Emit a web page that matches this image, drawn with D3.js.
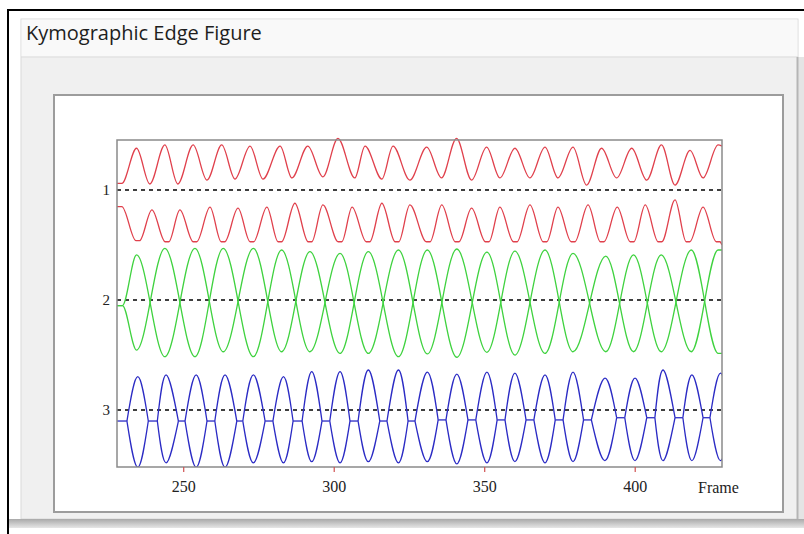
<!DOCTYPE html>
<html><head><meta charset="utf-8">
<script src="https://cdn.jsdelivr.net/npm/d3@7"></script>
<style>body{margin:0;background:#fff;} svg{display:block}</style>
</head><body><svg id="c" width="804" height="534"></svg>
<script>
// ---------- data ----------
const titleText = "Kymographic Edge Figure";
const xLabel = "Frame";
const xTicks = [250, 300, 350, 400];
const rowValues = [1, 2, 3];
const rowLabels = ["1", "2", "3"];
const frameDomain = [228, 429];
const valueDomain = [0.545, 3.518];

// red trace, upper edge: [frame, value]
const redUpper = [[228,0.94],[229.6,0.94],
 [234.5,0.62],[238.9,0.945],[243.9,0.59],[248.2,0.945],[253.3,0.59],[257.9,0.91],
 [262.8,0.59],[267.2,0.90],[272.2,0.60],[276.5,0.90],[282.2,0.60],[286.1,0.89],
 [291.4,0.60],[296.4,0.88],[301.4,0.53],[307.0,0.89],[310.4,0.60],[316.0,0.90],
 [319.7,0.60],[325.3,0.91],[330.9,0.61],[335.8,0.89],[340.8,0.53],[345.8,0.91],
 [350.8,0.61],[355.2,0.89],[360.2,0.62],[365.2,0.89],[370.2,0.61],[374.5,0.89],
 [379.5,0.61],[384.0,0.955],[389.0,0.62],[394.0,0.89],[399.0,0.62],[404.0,0.91],
 [408.9,0.59],[413.4,0.955],[418.4,0.64],[422.7,0.89],[427.7,0.59],[429,0.60]];

// red trace, lower edge (troughs have short flat bottoms)
const redLower = [[228,1.15],[229.6,1.15],
 [234.3,1.46],[235.5,1.46],[239.6,1.18],[244.0,1.47],[245.2,1.47],[248.9,1.18],
 [253.3,1.47],[254.5,1.47],[258.9,1.155],[262.6,1.47],[263.8,1.47],[268.2,1.165],
 [272.2,1.47],[273.4,1.47],[277.8,1.155],[281.5,1.47],[282.7,1.47],[287.1,1.12],
 [291.5,1.47],[292.7,1.47],[296.4,1.135],[301.5,1.47],[302.7,1.47],[306.1,1.155],
 [310.8,1.47],[312.0,1.47],[316.0,1.12],[320.4,1.47],[321.6,1.47],[325.3,1.135],
 [330.8,1.47],[332.0,1.47],[335.9,1.135],[340.4,1.47],[341.6,1.47],[345.8,1.165],
 [350.4,1.47],[351.6,1.47],[355.2,1.155],[359.7,1.47],[360.9,1.47],[365.2,1.135],
 [369.6,1.47],[370.8,1.47],[374.5,1.155],[378.9,1.47],[380.1,1.47],[384.5,1.135],
 [388.6,1.47],[389.8,1.47],[394.2,1.155],[398.5,1.47],[399.7,1.47],[403.5,1.135],
 [407.8,1.47],[409.0,1.47],[413.4,1.09],[417.1,1.47],[418.3,1.47],[422.7,1.155],
 [427.1,1.47],[428.3,1.47],[429,1.50]];

// green pair: lens centres, extreme upper / lower values
const greenStart = [[228,2.05],[229.8,2.05]];
const greenCenters = [234.5,243.9,253.9,263.3,273.3,282.7,292.1,302.1,311.5,321.5,
 331.1,340.9,350.9,360.2,370.2,379.5,390.4,399.6,408.8,418.8,427.7];
const greenTop = [1.59,1.53,1.53,1.53,1.53,1.545,1.56,1.575,1.56,1.545,
 1.545,1.536,1.564,1.555,1.545,1.575,1.60,1.59,1.59,1.545,1.545];
const greenBottom = [2.455,2.515,2.515,2.47,2.515,2.47,2.47,2.485,2.485,2.515,
 2.49,2.52,2.475,2.50,2.485,2.47,2.47,2.47,2.47,2.47,2.485];
const greenEnd = 429;

// blue pair: closed phases (flat) and open lenses
const blueStart = [228, 231.3];
const blueCenters = [234.9,244.3,254.3,263.9,273.3,283.3,292.7,302.1,311.5,321.5,
 331.1,340.9,350.9,360.2,370.2,379.5,390.1,400.1,409.4,419.0,428.5];
const blueTop = [2.697,2.68,2.68,2.68,2.68,2.697,2.65,2.65,2.636,2.636,
 2.655,2.673,2.655,2.664,2.68,2.655,2.71,2.71,2.636,2.68,2.664];
const blueBottom = [3.52,3.48,3.52,3.52,3.48,3.48,3.47,3.48,3.47,3.48,
 3.47,3.49,3.48,3.47,3.48,3.47,3.46,3.46,3.46,3.46,3.46];
const blueClosedStart = [238.4,248.4,257.9,267.8,277.2,286.5,296.1,305.4,315.3,324.7,
 334.7,344.6,354.3,363.9,373.6,383.0,394.0,404.0,413.4,422.7,432.0];
const blueClosedEnd = [241.4,250.6,260.5,269.8,279.8,289.5,298.7,308.1,317.7,327.0,
 337.3,347.2,356.9,366.5,376.2,385.6,396.7,406.7,416.0,425.0,434.0];
const blueClosedLevel = [3.10,3.10,3.10,3.10,3.10,3.10,3.10,3.10,3.10,3.10,
 3.09,3.09,3.09,3.09,3.09,3.09,3.07,3.07,3.07,3.07,3.07];

// ---------- drawing ----------
const svg = d3.select("#c");
const W = 804, H = 534;

// window chrome
svg.append("rect").attr("x",0).attr("y",0).attr("width",W).attr("height",H).attr("fill","#ffffff");
svg.append("rect").attr("x",21).attr("y",19).attr("width",777).attr("height",500)
  .attr("fill","#f0f0f0").attr("stroke","#d9d9d9").attr("stroke-width",1);
svg.append("rect").attr("x",21.5).attr("y",19.5).attr("width",776).attr("height",37)
  .attr("fill","#f9f9f9");
svg.append("line").attr("x1",21).attr("x2",798).attr("y1",57).attr("y2",57)
  .attr("stroke","#dcdcdc").attr("stroke-width",1.2);
svg.append("rect").attr("x",797).attr("y",57).attr("width",7).attr("height",463).attr("fill","#e4e4e4");
svg.append("line").attr("x1",797.5).attr("x2",797.5).attr("y1",57).attr("y2",520)
  .attr("stroke","#b5b5b5").attr("stroke-width",2);
const shadow = svg.append("defs").append("linearGradient").attr("id","sh")
  .attr("x1",0).attr("x2",0).attr("y1",0).attr("y2",1);
shadow.append("stop").attr("offset","0%").attr("stop-color","#a9a9a9");
shadow.append("stop").attr("offset","100%").attr("stop-color","#e6e6e6");
svg.append("rect").attr("x",9).attr("y",519).attr("width",795).attr("height",9).attr("fill","url(#sh)");
svg.append("line").attr("x1",8).attr("x2",804).attr("y1",10).attr("y2",10)
  .attr("stroke","#000").attr("stroke-width",2);
svg.append("line").attr("x1",8).attr("x2",8).attr("y1",9).attr("y2",534)
  .attr("stroke","#000").attr("stroke-width",2);

svg.append("text").attr("x",26).attr("y",40).text(titleText)
  .attr("font-family","'Open Sans', 'Noto Sans', sans-serif").attr("font-size",20)
  .attr("fill","#1e1e1e");

// white figure panel
svg.append("rect").attr("x",54).attr("y",95).attr("width",729).attr("height",417)
  .attr("fill","#fff").attr("stroke","#9c9c9c").attr("stroke-width",2);

// plot area
const P = {l:117, r:722, t:140, b:467};
const x = d3.scaleLinear().domain(frameDomain).range([P.l, P.r]);
const y = d3.scaleLinear().domain(valueDomain).range([P.t, P.b]);

svg.append("defs").append("clipPath").attr("id","clip")
  .append("rect").attr("x",P.l).attr("y",P.t-3).attr("width",P.r-P.l).attr("height",P.b-P.t+3);

const g = svg.append("g").attr("clip-path","url(#clip)");

// dashed reference lines
g.selectAll("line.ref").data(rowValues).join("line").attr("class","ref")
  .attr("x1",P.l).attr("x2",P.r).attr("y1",d=>y(d)).attr("y2",d=>y(d))
  .attr("stroke","#000").attr("stroke-width",1.4).attr("stroke-dasharray","4,4");

const smooth = d3.line().x(d=>x(d[0])).y(d=>y(d[1])).curve(d3.curveMonotoneX);
const arc = d3.line().x(d=>x(d[0])).y(d=>y(d[1])).curve(d3.curveNatural);
const straight = d3.line().x(d=>x(d[0])).y(d=>y(d[1]));

const green1 = greenStart.concat(greenCenters.map((c,i)=>[c, i%2===0 ? greenTop[i] : greenBottom[i]]));
const green2 = greenStart.concat(greenCenters.map((c,i)=>[c, i%2===0 ? greenBottom[i] : greenTop[i]]));
green1.push([greenEnd, greenTop[greenTop.length-1]]);
green2.push([greenEnd, greenBottom[greenBottom.length-1]]);

const RED = "#e0404c", GREEN = "#3fd23f", BLUE = "#2b2bc4";
const paths = [
  {d:smooth(redUpper), c:RED}, {d:smooth(redLower), c:RED},
  {d:smooth(green1), c:GREEN}, {d:smooth(green2), c:GREEN}
];

// blue: straight closed phases + natural arcs for each open phase
paths.push({d:straight([[blueStart[0], blueClosedLevel[0]],[blueStart[1], blueClosedLevel[0]]]), c:BLUE});
blueClosedStart.forEach((s,i)=>{
  paths.push({d:straight([[s, blueClosedLevel[i]],[blueClosedEnd[i], blueClosedLevel[i]]]), c:BLUE});
});
blueCenters.forEach((c,i)=>{
  const a = i===0 ? [blueStart[1], blueClosedLevel[0]] : [blueClosedEnd[i-1], blueClosedLevel[i-1]];
  const b = [blueClosedStart[i], blueClosedLevel[i]];
  paths.push({d:arc([a,[c, blueTop[i]],b]), c:BLUE});
  paths.push({d:arc([a,[c, blueBottom[i]],b]), c:BLUE});
});

g.selectAll("path.tr").data(paths).join("path").attr("class","tr")
  .attr("d",t=>t.d).attr("fill","none").attr("stroke",t=>t.c).attr("stroke-width",1.3);

// border
svg.append("rect").attr("x",P.l).attr("y",P.t).attr("width",P.r-P.l).attr("height",P.b-P.t)
  .attr("fill","none").attr("stroke","#8a8a8a").attr("stroke-width",1.5);

// x axis
const xa = svg.append("g").attr("transform",`translate(0,${P.b})`)
  .call(d3.axisBottom(x).tickValues(xTicks).tickSize(5).tickPadding(9).tickFormat(d3.format("d")));
xa.select(".domain").remove();
xa.selectAll(".tick line").attr("stroke","#d05050").attr("stroke-width",1.2);
xa.selectAll(".tick text").attr("font-family","'Liberation Serif', serif").attr("font-size",16).attr("fill","#222");

svg.append("text").attr("x",698).attr("y",493).text(xLabel)
  .attr("font-family","'Liberation Serif', serif").attr("font-size",16).attr("fill","#222");

// y axis labels
const ya = svg.append("g").attr("transform",`translate(${P.l},0)`)
  .call(d3.axisLeft(y).tickValues(rowValues).tickSize(0).tickPadding(7)
  .tickFormat((d,i)=>rowLabels[i]));
ya.select(".domain").remove();
ya.selectAll(".tick text").attr("font-family","'Liberation Serif', serif").attr("font-size",15).attr("fill","#222");
</script></body></html>
